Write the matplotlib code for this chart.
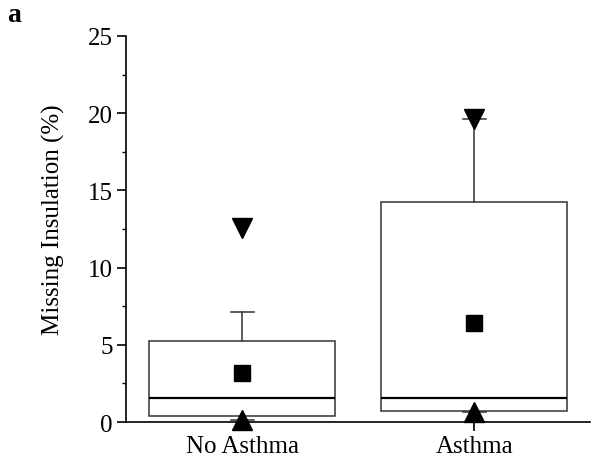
import matplotlib
matplotlib.use("Agg")
import matplotlib.pyplot as plt
from matplotlib.ticker import MultipleLocator

plt.rcParams['font.family'] = ['Liberation Serif', 'DejaVu Serif']

categories = ["No Asthma", "Asthma"]
q1 = [0.41, 0.69]
median = [1.53, 1.55]
q3 = [5.25, 14.27]
whisker_low = [0.1, 0.65]
whisker_high = [7.1, 19.6]
means = [3.2, 6.39]
mins = [0.1, 0.65]
maxs = [12.55, 19.6]

fig = plt.figure(figsize=(5.92, 4.6), dpi=100)
ax = fig.add_axes([0.213, 0.0804, 0.784, 0.8392])

stats = []
for i, c in enumerate(categories):
    stats.append(dict(label=c, q1=q1[i], med=median[i], q3=q3[i],
                      whislo=whisker_low[i], whishi=whisker_high[i], fliers=[]))
pos = [1, 2]
ax.bxp(stats, positions=pos, widths=0.8, showfliers=False, patch_artist=True,
       boxprops=dict(facecolor='white', edgecolor='#333333', linewidth=1.1),
       medianprops=dict(color='black', linewidth=1.6),
       whiskerprops=dict(color='#333333', linewidth=1.1),
       capprops=dict(color='#333333', linewidth=1.1),
       capwidths=0.1)
ax.plot(pos, means, 's', color='black', markersize=11.5, zorder=5)
ax.plot(pos, maxs, 'v', color='black', markersize=15, zorder=5)
ax.plot(pos, mins, '^', color='black', markersize=15, zorder=5, clip_on=False)

ax.set_xlim(0.5, 2.5)
ax.set_ylim(0, 25)
ax.yaxis.set_major_locator(MultipleLocator(5))
ax.yaxis.set_minor_locator(MultipleLocator(2.5))
ax.set_xticks(pos)
ax.set_xticklabels(categories)
ax.spines['top'].set_visible(False)
ax.spines['right'].set_visible(False)
for s in ['left', 'bottom']:
    ax.spines[s].set_linewidth(1.2)
ax.tick_params(axis='both', which='major', direction='out', length=6.5, width=1.2, labelsize=18, pad=3)
ax.tick_params(axis='y', which='minor', direction='out', length=3, width=1.0)
ax.set_ylabel('Missing Insulation (%)', fontsize=18)
ax.yaxis.set_label_coords(-0.131, 0.526)
fig.text(0.012, 0.953, 'a', fontsize=20, fontweight='bold')

fig.savefig('out.png', dpi=100)
